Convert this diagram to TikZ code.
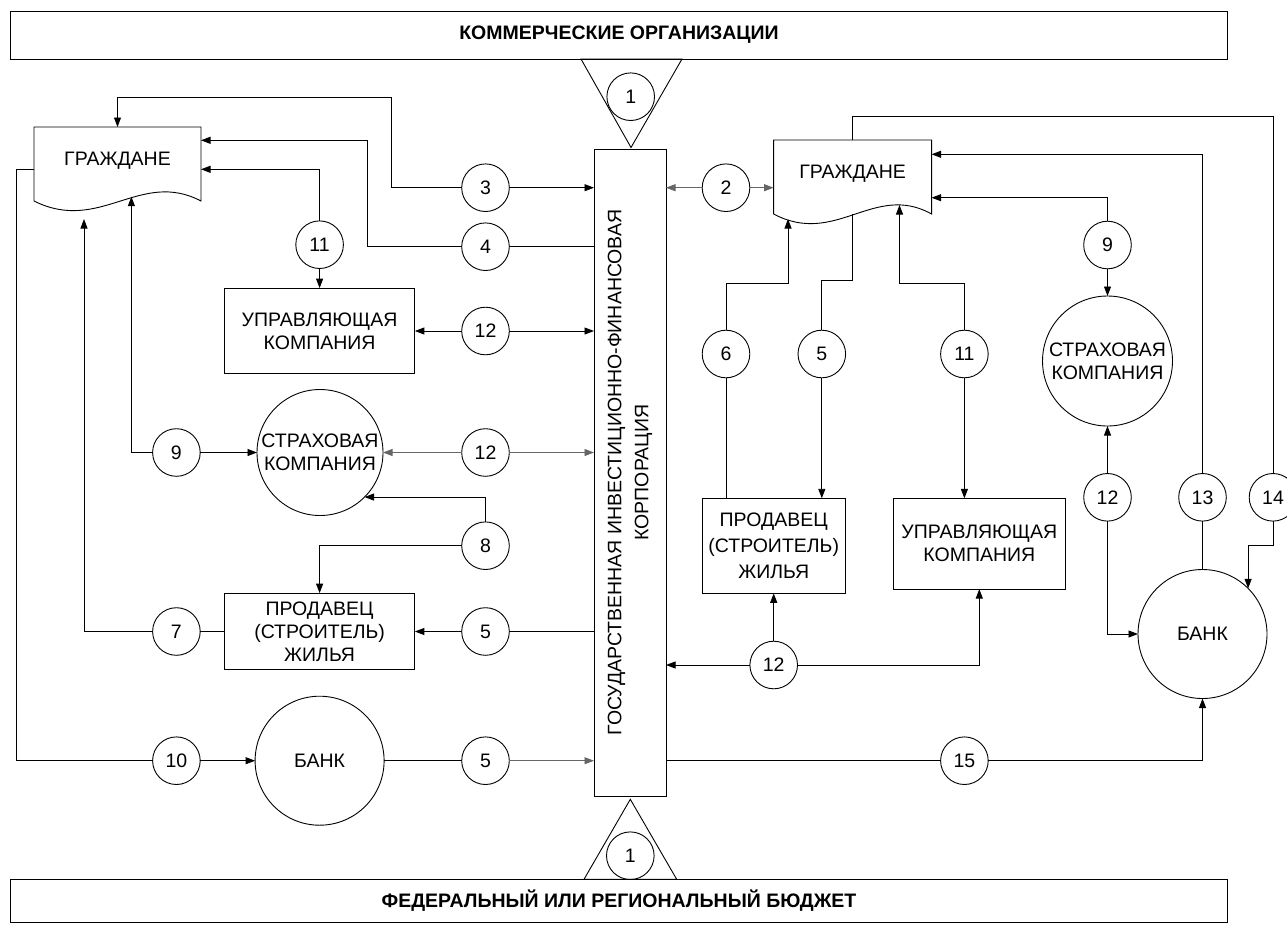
\documentclass[tikz,border=0pt]{standalone}
\usepackage{fontspec}
\setmainfont{Liberation Sans}
\usepackage{tikz}
\usetikzlibrary{arrows.meta, calc}
\tikzstyle{numc} = [circle, draw, minimum size=47.6pt, inner sep=0pt, outer sep=0pt]
\tikzstyle{rectbox} = [rectangle, draw, align=center, inner sep=0pt, outer sep=0pt]
\tikzstyle{bigc} = [circle, draw, align=center, inner sep=0pt, outer sep=0pt]
\tikzstyle{docnode} = [rectangle, inner sep=0pt, outer sep=0pt, minimum height=74pt, text depth=10pt]
\tikzstyle{barbox} = [rectangle, draw, inner sep=0pt, outer sep=0pt, minimum width=1217pt, font=\bfseries\fontsize{19.5}{23}\selectfont]
\tikzstyle{grayline} = [draw=black!60]

% outline of a "document" node with wavy bottom
\newcommand{\docshape}[1]{%
  \draw (#1.south west) -- (#1.north west) -- (#1.north east) -- (#1.south east)
    .. controls ($(#1.south west)!0.635!(#1.south east)+(0,-32)$)
    and ($(#1.south west)!0.395!(#1.south east)+(0,33)$) .. (#1.south west);}

\begin{document}
\begin{tikzpicture}[x=1pt, y=-1pt, >={Triangle[length=9.5pt,width=7pt]}, line width=0.9pt,
  font=\fontsize{19.5}{23}\selectfont]

   \useasboundingbox (0,0) rectangle (1287,924);

   % Top and bottom bars
   \node[barbox, minimum height=48pt] (comm) at (619,35) {КОММЕРЧЕСКИЕ ОРГАНИЗАЦИИ};
   \node[barbox, minimum height=43pt] (budg) at (619,901) {ФЕДЕРАЛЬНЫЙ ИЛИ РЕГИОНАЛЬНЫЙ БЮДЖЕТ};

   % Corporation in the middle
   \node[rectbox, rotate=90, minimum width=647pt, minimum height=72pt,
     font=\fontsize{19.5}{27}\selectfont] (corp) at (630,472.5)
     {ГОСУДАРСТВЕННАЯ ИНВЕСТИЦИОННО-ФИНАНСОВАЯ\\КОРПОРАЦИЯ};

   % Triangles with flow 1
   \draw (581,59) -- (682,59) -- (631,147.5) -- cycle;
   \draw (630.3,799.3) -- (584,879.3) -- (676.7,879.3) -- cycle;
   \node[numc] (n1a) at (630.7,96.7) {1};
   \node[numc] (n1b) at (630.3,855.7) {1};

   % Left column
   \node[docnode, minimum width=167pt] (citL) at (117.5,164) {ГРАЖДАНЕ};
   \docshape{citL}
   \node[rectbox, minimum width=190.5pt, minimum height=85.7pt] (uprL) at (319.6,331) {УПРАВЛЯЮЩАЯ\\КОМПАНИЯ};
   \node[bigc, minimum size=126pt] (insL) at (320,452.5) {СТРАХОВАЯ\\КОМПАНИЯ};
   \node[rectbox, minimum width=190.5pt, minimum height=76.7pt] (sellL) at (319.6,631.5) {ПРОДАВЕЦ\\(СТРОИТЕЛЬ)\\ЖИЛЬЯ};
   \node[bigc, minimum size=129pt] (bankL) at (319.6,760.7) {БАНК};

   \node[numc] (n3) at (485.5,187.7) {3};
   \node[numc] (n4) at (485.5,246.7) {4};
   \node[numc] (n11a) at (319.6,244.7) {11};
   \node[numc] (n12a) at (485.5,331) {12};
   \node[numc] (n9a) at (176.4,452.5) {9};
   \node[numc] (n12b) at (485.5,452.5) {12};
   \node[numc] (n8) at (485.5,545.7) {8};
   \node[numc] (n7) at (176.4,631.5) {7};
   \node[numc] (n5a) at (485.5,631.5) {5};
   \node[numc] (n10) at (176.4,760.7) {10};
   \node[numc] (n5b) at (485.5,760.7) {5};

   % Right column
   \node[docnode, minimum width=158pt] (citR) at (852.6,177) {ГРАЖДАНЕ};
   \docshape{citR}
   \node[rectbox, minimum width=143.4pt, minimum height=95pt,
     font=\fontsize{19.5}{26}\selectfont] (sellR) at (773.7,545.8) {ПРОДАВЕЦ\\(СТРОИТЕЛЬ)\\ЖИЛЬЯ};
   \node[rectbox, minimum width=172.7pt, minimum height=90.7pt] (uprR) at (979.3,543.7) {УПРАВЛЯЮЩАЯ\\КОМПАНИЯ};
   \node[bigc, minimum size=130pt] (insR) at (1107.5,361) {СТРАХОВАЯ\\КОМПАНИЯ};
   \node[bigc, minimum size=129pt] (bankR) at (1202.5,634) {БАНК};

   \node[numc] (n2) at (726,187.7) {2};
   \node[numc] (n6) at (726,354) {6};
   \node[numc] (n5c) at (821.8,354) {5};
   \node[numc] (n11b) at (964.4,354) {11};
   \node[numc] (n9b) at (1107.5,245) {9};
   \node[numc] (n12c) at (1107.5,497.3) {12};
   \node[numc] (n13) at (1202.5,497.3) {13};
   \node[numc] (n14) at (1273,497.3) {14};
   \node[numc] (n12d) at (773.7,665) {12};
   \node[numc] (n15) at (964.4,760.7) {15};

   % Bend points
   \coordinate (b3) at (391.3,97.3);
   \coordinate (b4) at (367.4,140.3);
   \coordinate (b11a) at (201,169.3);
   \coordinate (b9a) at (131.4,196.7);
   \coordinate (b7) at (84,219);
   \coordinate (b10) at (16.5,169.3);
   \coordinate (b14a) at (1273,116);
   \coordinate (b14b) at (1248.1,545.7);
   \coordinate (b13) at (931.6,154.3);
   \coordinate (b9b) at (931.6,197.7);
   \coordinate (b6a) at (788,283.3);
   \coordinate (b6b) at (788,219);
   \coordinate (b5c) at (821.8,280);
   \coordinate (b11c) at (899.5,283.3);
   \coordinate (b11d) at (899.5,205);

   % Left flows
   \draw[->] (n3.west) -| (b3) -| (citL.north);
   \draw[->] (n3.east) -- (n3 -| corp.north);
   \draw (n4 -| corp.north) -- (n4.east);
   \draw[->] (n4.west) -| (b4) -- (b4 -| citL.east);
   \draw[->] (n11a.north) |- (b11a);
   \draw[->] (n11a.south) -- (uprL.north);
   \draw[->] (n12a.west) -- (uprL.east);
   \draw[->] (n12a.east) -- (n12a -| corp.north);
   \draw[->] (n9a.west) -| (b9a);
   \draw[->] (n9a.east) -- (insL.west);
   \draw[grayline, ->] (n12b.west) -- (insL.east);
   \draw[grayline, ->] (n12b.east) -- (n12b -| corp.north);
   \draw[->] (n8.north) |- (insL.-45);
   \draw[->] (n8.west) -| (sellL.north);
   \draw (n7.east) -- (sellL.west);
   \draw[->] (n7.west) -| (b7);
   \draw (n5a -| corp.north) -- (n5a.east);
   \draw[->] (n5a.west) -- (sellL.east);
   \draw (b10 -| citL.west) -- (b10) |- (n10.west);
   \draw[->] (n10.east) -- (bankL.west);
   \draw (bankL.east) -- (n5b.west);
   \draw[grayline, ->] (n5b.east) -- (n5b -| corp.north);

   % Right flows
   \draw[grayline, ->] (n2.west) -- (n2 -| corp.south);
   \draw[grayline, ->] (n2.east) -- (n2 -| citR.west);
   \draw (citR.north) |- (b14a) -- (n14.north);
   \draw[->] (n14.south) |- (b14b) -- (b14b |- bankR.45);
   \draw (bankR.north) -- (n13.south);
   \draw[->] (n13.north) |- (b13);
   \draw[->] (n9b.north) |- (b9b);
   \draw[->] (n9b.south) -- (insR.north);
   \draw[->] (n12c.north) -- (insR.south);
   \draw[->] (n12c.south) |- (bankR.west);
   \draw (n15 -| corp.south) -- (n15.west);
   \draw[->] (n15.east) -| (bankR.south);
   \draw (n6 |- sellR.north) -- (n6.south);
   \draw[->] (n6.north) |- (b6a) -- (b6b);
   \draw (citR.south) |- (b5c) -- (n5c.north);
   \draw[->] (n5c.south) -- (n5c |- sellR.north);
   \draw[->] (n11b.north) |- (b11c) -- (b11d);
   \draw[->] (n11b.south) -- (n11b |- uprR.north);
   \draw[->] (n12d.north) -- (sellR.south);
   \draw[->] (n12d.west) -- (n12d -| corp.south);
   \draw[->] (n12d.east) -| (uprR.south);

\end{tikzpicture}
\end{document}
